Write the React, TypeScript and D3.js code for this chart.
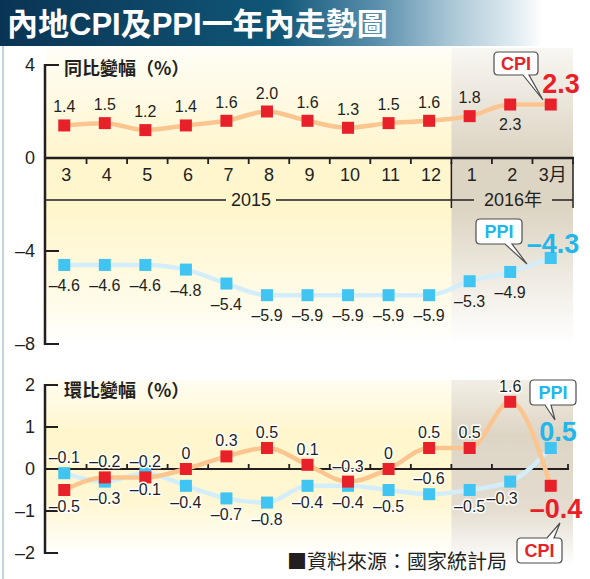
import * as d3 from 'd3';
import { useEffect, useRef } from 'react';

const months = ['3', '4', '5', '6', '7', '8', '9', '10', '11', '12', '1', '2', '3月'];
const cpiYoY = [1.4, 1.5, 1.2, 1.4, 1.6, 2.0, 1.6, 1.3, 1.5, 1.6, 1.8, 2.3, 2.3];
const ppiYoY = [-4.6, -4.6, -4.6, -4.8, -5.4, -5.9, -5.9, -5.9, -5.9, -5.9, -5.3, -4.9, -4.3];
const cpiMoM = [-0.5, -0.2, -0.2, 0, 0.3, 0.5, 0.1, -0.3, 0, 0.5, 0.5, 1.6, -0.4];
const ppiMoM = [-0.1, -0.3, -0.1, -0.4, -0.7, -0.8, -0.4, -0.4, -0.5, -0.6, -0.5, -0.3, 0.5];
const topTicks = [4, 0, -4, -8];
const botTicks = [2, 1, 0, -1, -2];

const RED = '#e8202a';
const BLUE = '#22b6ea';
const CPI_LINE = '#fbc58f';
const PPI_LINE = '#d3eefa';
const PPI_MARK = '#40c4f1';
const FONT = '"Liberation Sans", Arial, "Noto Sans CJK TC", sans-serif';
const CJK = '"Noto Sans CJK TC", "Liberation Sans", sans-serif';

const fmt = (v: number) => (v === 0 ? '0' : (v < 0 ? '–' : '') + Math.abs(v).toFixed(1));

const App = () => {
    const ref = useRef<SVGSVGElement | null>(null);

    useEffect(() => {
        document.body.style.margin = '0';
        drawChart();
    }, []);

    const drawChart = () => {
        const svg: any = d3.select(ref.current);
        svg.selectAll('*').remove();
        const defs = svg.append('defs');

        // gradients
        const grad = (id: string, stops: [number, string][], horizontal = false) => {
            const g = defs.append('linearGradient').attr('id', id)
                .attr('x1', 0).attr('y1', 0).attr('x2', horizontal ? 1 : 0).attr('y2', horizontal ? 0 : 1);
            stops.forEach(([o, c]) => g.append('stop').attr('offset', o).attr('stop-color', c));
        };
        grad('title', [[0, '#0b3454'], [0.47, '#105677'], [0.64, '#5b90ad'], [0.76, '#a8c5d5'], [0.88, '#e4eef3'], [0.92, '#ffffff']], true);
        grad('yelTop', [[0, '#fffdf6'], [0.35, '#fff6cf'], [0.55, '#fff6cc'], [0.85, '#fffbe8'], [1, '#ffffff']]);
        grad('grayTop', [[0, '#f9f7f3'], [0.35, '#ddd5c4'], [0.55, '#ddd5c4'], [0.85, '#f5f2ec'], [1, '#ffffff']]);
        grad('yelBot', [[0, '#fffdf2'], [0.3, '#fff6cc'], [0.7, '#fff7d2'], [1, '#ffffff']]);
        grad('grayBot', [[0, '#f2eee6'], [0.3, '#ddd5c4'], [0.7, '#e4ddd0'], [1, '#ffffff']]);

        const x: any = d3.scaleBand().domain(d3.range(months.length) as any).range([46, 573]);
        const bw = x.bandwidth();
        const cx = (i: number) => x(i) + bw / 2 - 2;
        const split = x(10);

        const yTop = d3.scaleLinear().domain([-8, 4]).range([344, 65]);
        const yBot = d3.scaleLinear().domain([-2, 2]).range([553, 385]);

        // title bar
        svg.append('rect').attr('x', 0).attr('y', 0).attr('width', 590).attr('height', 46).attr('fill', 'url(#title)');
        svg.append('text').attr('x', 7).attr('y', 35).text('內地CPI及PPI一年內走勢圖')
            .style('font-family', '"Liberation Sans", "Noto Sans CJK TC", sans-serif')
            .style('font-weight', 700).style('font-size', 31).style('fill', '#fff');
        svg.append('line').attr('x1', 3).attr('x2', 3).attr('y1', 46).attr('y2', 579)
            .attr('stroke', '#c3d3de').attr('stroke-width', 2);

        // backgrounds
        svg.append('rect').attr('x', 46).attr('y', 48).attr('width', split - 46).attr('height', 297).attr('fill', 'url(#yelTop)');
        svg.append('rect').attr('x', split).attr('y', 48).attr('width', 573 - split).attr('height', 297).attr('fill', 'url(#grayTop)');
        svg.append('rect').attr('x', 46).attr('y', 380).attr('width', split - 46).attr('height', 175).attr('fill', 'url(#yelBot)');
        svg.append('rect').attr('x', split).attr('y', 380).attr('width', 573 - split).attr('height', 185).attr('fill', 'url(#grayBot)');

        const axisLine = (x1: number, y1: number, x2: number, y2: number, w = 2.5) =>
            svg.append('line').attr('x1', x1).attr('y1', y1).attr('x2', x2).attr('y2', y2)
                .attr('stroke', '#231f20').attr('stroke-width', w);

        // ---- top chart axes
        axisLine(45, yTop(4) - 1, 45, yTop(-8) + 1);
        topTicks.forEach((t) => {
            if (t !== 0) axisLine(45, yTop(t), 59, yTop(t), 2);
            svg.append('text').attr('x', 35).attr('y', yTop(t) + 6).text(t < 0 ? '–' + Math.abs(t) : t)
                .style('font-family', FONT).style('font-size', 18).style('text-anchor', 'end').style('fill', '#231f20');
        });
        axisLine(45, yTop(0), 574, yTop(0));
        d3.range(1, 14).forEach((k) => axisLine(46 + k * bw, yTop(0), 46 + k * bw, yTop(0) + 6, 1.8));
        months.forEach((m, i) => {
            svg.append('text').attr('x', x(i) + bw / 2).attr('y', 181).text(m)
                .style('font-family', FONT).style('font-size', 18).style('text-anchor', 'middle').style('fill', '#231f20');
        });
        // year lines
        axisLine(split, yTop(0) + 4, split, 208, 1.5);
        axisLine(573, yTop(0) + 4, 573, 208, 1.5);
        axisLine(46, 200, 226, 200, 1.5);
        axisLine(276, 200, split, 200, 1.5);
        axisLine(split, 200, 474, 200, 1.5);
        axisLine(552, 200, 573, 200, 1.5);
        svg.append('text').attr('x', 251).attr('y', 206).text('2015')
            .style('font-family', FONT).style('font-size', 18).style('text-anchor', 'middle').style('fill', '#231f20');
        svg.append('text').attr('x', 513).attr('y', 206).text('2016年')
            .style('font-family', FONT).style('font-size', 18).style('text-anchor', 'middle').style('fill', '#231f20');
        svg.append('text').attr('x', 64).attr('y', 75).text('同比變幅（%）')
            .style('font-family', CJK).style('font-size', 18).style('font-weight', 700).style('fill', '#231f20');

        // ---- bottom chart axes
        axisLine(45, yBot(2) - 1, 45, yBot(-2) + 1);
        botTicks.forEach((t) => {
            if (t !== 0) axisLine(45, yBot(t), 58, yBot(t), 2);
            svg.append('text').attr('x', 35).attr('y', yBot(t) + 6).text(t < 0 ? '–' + Math.abs(t) : t)
                .style('font-family', FONT).style('font-size', 18).style('text-anchor', 'end').style('fill', '#231f20');
        });
        axisLine(45, yBot(0), 569, yBot(0), 2);
        d3.range(1, 14).forEach((k) => axisLine(Math.min(46 + k * bw, 568), yBot(0), Math.min(46 + k * bw, 568), yBot(0) - 5, 1.8));
        svg.append('text').attr('x', 64).attr('y', 397).text('環比變幅（%）')
            .style('font-family', CJK).style('font-size', 18).style('font-weight', 700).style('fill', '#231f20');

        // ---- series
        const drawSeries = (vals: number[], y: any, lineColor: string, markColor: string) => {
            const line = d3.line<number>().x((_, i) => cx(i)).y((d) => y(d)).curve(d3.curveMonotoneX);
            svg.append('path').attr('d', line(vals)).attr('fill', 'none')
                .attr('stroke', lineColor).attr('stroke-width', 4.5).attr('stroke-linejoin', 'round');
            svg.selectAll(null).data(vals).enter().append('rect')
                .attr('x', (_: any, i: number) => cx(i) - 6).attr('y', (d: number) => y(d) - 6)
                .attr('width', 12).attr('height', 12).attr('fill', markColor);
        };
        drawSeries(ppiYoY, yTop, PPI_LINE, PPI_MARK);
        drawSeries(cpiYoY, yTop, CPI_LINE, RED);
        drawSeries(ppiMoM, yBot, PPI_LINE, PPI_MARK);
        drawSeries(cpiMoM, yBot, CPI_LINE, RED);

        const label = (tx: number, ty: number, t: string, halo = false) => {
            const el = svg.append('text').attr('x', tx).attr('y', ty).text(t)
                .style('font-family', FONT).style('font-size', 16).style('text-anchor', 'middle').style('fill', '#231f20');
            if (halo) el.style('stroke', '#fff').style('stroke-width', 3).style('paint-order', 'stroke').style('stroke-linejoin', 'round');
        };
        const last = months.length - 1;

        // top labels
        cpiYoY.forEach((v, i) => {
            if (i === last) return;
            label(cx(i), yTop(v) + (i === 11 ? 25 : -13), fmt(v));
        });
        ppiYoY.forEach((v, i) => {
            if (i === last) return;
            label(cx(i), yTop(v) + 26, fmt(v));
        });

        // bottom labels
        cpiMoM.forEach((v, i) => {
            if (i === last) return;
            label(cx(i), yBot(v) + (i === 0 ? 22 : -10), fmt(v), true);
        });
        ppiMoM.forEach((v, i) => {
            if (i === last) return;
            const above = i === 0 || i === 9;
            label(cx(i) - (i === 11 ? 8 : 0), yBot(v) + (above ? -10 : 22), fmt(v), true);
        });

        // big end labels
        const big = (tx: number, ty: number, t: string, color: string) =>
            svg.append('text').attr('x', tx).attr('y', ty).text(t)
                .style('font-family', FONT).style('font-size', 27).style('font-weight', 700)
                .style('text-anchor', 'middle').style('fill', color);
        big(561, 93, fmt(cpiYoY[last]), RED);
        big(553, 253, fmt(ppiYoY[last]), BLUE);
        big(558, 441, fmt(ppiMoM[last]), BLUE);
        big(556, 518, fmt(cpiMoM[last]), RED);

        // callouts
        const callout = (x0: number, y0: number, x1: number, y1: number, w1: number, w2: number,
            tip: [number, number], up: boolean, t: string, color: string) => {
            const r = 4;
            let d = `M${x0 + r},${y0}`;
            if (up) d += `H${w1}L${tip[0]},${tip[1]}L${w2},${y0}`;
            d += `H${x1 - r}Q${x1},${y0} ${x1},${y0 + r}V${y1 - r}Q${x1},${y1} ${x1 - r},${y1}`;
            if (!up) d += `H${w2}L${tip[0]},${tip[1]}L${w1},${y1}`;
            d += `H${x0 + r}Q${x0},${y1} ${x0},${y1 - r}V${y0 + r}Q${x0},${y0} ${x0 + r},${y0}Z`;
            svg.append('path').attr('d', d).attr('fill', '#fff').attr('stroke', '#4d4d4d').attr('stroke-width', 1.2);
            svg.append('text').attr('x', (x0 + x1) / 2).attr('y', (y0 + y1) / 2 + 6.5).text(t)
                .style('font-family', FONT).style('font-size', 18).style('font-weight', 700)
                .style('text-anchor', 'middle').style('fill', color);
        };
        callout(494, 52, 538, 75, 523, 529, [543, 100], false, 'CPI', RED);
        callout(476, 219, 522, 244, 505, 512, [527, 264], false, 'PPI', BLUE);
        callout(530, 380, 576, 405, 545, 551, [555, 420], false, 'PPI', BLUE);
        callout(517, 538, 562, 563, 547, 554, [560, 523], true, 'CPI', RED);

        // source
        svg.append('text').attr('x', 287).attr('y', 569).text('■資料來源：國家統計局')
            .style('font-family', CJK).style('font-size', 20).style('fill', '#231f20');
    };

    return (
        <svg ref={ref} width={590} height={579} style={{ display: 'block', background: '#fff' }}></svg>
    );
};

export default App;
